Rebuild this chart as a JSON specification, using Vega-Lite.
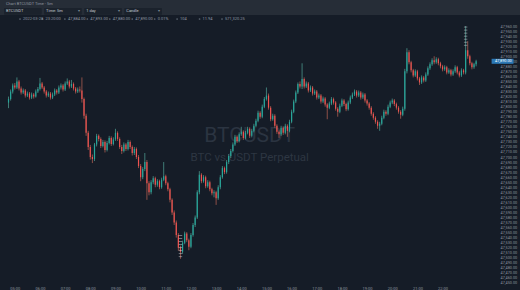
{
  "$schema": "https://vega.github.io/schema/vega-lite/v6.json",
  "background": "#151c27",
  "padding": 0,
  "spacing": 0,
  "config": {
    "font": "Roboto",
    "view": {"stroke": null},
    "axis": {"labelOverlap": false, "labelSeparation": 0}
  },
  "resolve": {"scale": {"x": "independent", "y": "independent"}},
  "datasets": {
    "bars": [
      {"t":"2022-03-28T04:45:00Z","o":47808,"h":47820,"l":47797,"c":47815},
      {"t":"2022-03-28T04:50:00Z","o":47815,"h":47834,"l":47812,"c":47830},
      {"t":"2022-03-28T04:55:00Z","o":47830,"h":47846,"l":47826,"c":47842},
      {"t":"2022-03-28T05:00:00Z","o":47842,"h":47847,"l":47834,"c":47838},
      {"t":"2022-03-28T05:05:00Z","o":47838,"h":47858,"l":47835,"c":47850},
      {"t":"2022-03-28T05:10:00Z","o":47850,"h":47853,"l":47832,"c":47836},
      {"t":"2022-03-28T05:15:00Z","o":47836,"h":47840,"l":47824,"c":47828},
      {"t":"2022-03-28T05:20:00Z","o":47828,"h":47836,"l":47825,"c":47832},
      {"t":"2022-03-28T05:25:00Z","o":47832,"h":47835,"l":47818,"c":47822},
      {"t":"2022-03-28T05:30:00Z","o":47822,"h":47830,"l":47819,"c":47826},
      {"t":"2022-03-28T05:35:00Z","o":47826,"h":47829,"l":47814,"c":47818},
      {"t":"2022-03-28T05:40:00Z","o":47818,"h":47828,"l":47815,"c":47824},
      {"t":"2022-03-28T05:45:00Z","o":47824,"h":47827,"l":47816,"c":47820},
      {"t":"2022-03-28T05:50:00Z","o":47820,"h":47834,"l":47818,"c":47830},
      {"t":"2022-03-28T05:55:00Z","o":47830,"h":47839,"l":47827,"c":47835},
      {"t":"2022-03-28T06:00:00Z","o":47835,"h":47857,"l":47832,"c":47846},
      {"t":"2022-03-28T06:05:00Z","o":47846,"h":47849,"l":47835,"c":47838},
      {"t":"2022-03-28T06:10:00Z","o":47838,"h":47841,"l":47826,"c":47830},
      {"t":"2022-03-28T06:15:00Z","o":47830,"h":47833,"l":47818,"c":47822},
      {"t":"2022-03-28T06:20:00Z","o":47822,"h":47830,"l":47819,"c":47826},
      {"t":"2022-03-28T06:25:00Z","o":47826,"h":47829,"l":47814,"c":47818},
      {"t":"2022-03-28T06:30:00Z","o":47818,"h":47828,"l":47815,"c":47824},
      {"t":"2022-03-28T06:35:00Z","o":47824,"h":47836,"l":47821,"c":47832},
      {"t":"2022-03-28T06:40:00Z","o":47832,"h":47835,"l":47824,"c":47828},
      {"t":"2022-03-28T06:45:00Z","o":47828,"h":47842,"l":47825,"c":47838},
      {"t":"2022-03-28T06:50:00Z","o":47838,"h":47846,"l":47834,"c":47842},
      {"t":"2022-03-28T06:55:00Z","o":47842,"h":47845,"l":47830,"c":47834},
      {"t":"2022-03-28T07:00:00Z","o":47834,"h":47850,"l":47831,"c":47846},
      {"t":"2022-03-28T07:05:00Z","o":47846,"h":47856,"l":47843,"c":47850},
      {"t":"2022-03-28T07:10:00Z","o":47850,"h":47853,"l":47836,"c":47840},
      {"t":"2022-03-28T07:15:00Z","o":47840,"h":47853,"l":47837,"c":47845},
      {"t":"2022-03-28T07:20:00Z","o":47845,"h":47848,"l":47832,"c":47836},
      {"t":"2022-03-28T07:25:00Z","o":47836,"h":47839,"l":47826,"c":47830},
      {"t":"2022-03-28T07:30:00Z","o":47830,"h":47838,"l":47827,"c":47834},
      {"t":"2022-03-28T07:35:00Z","o":47834,"h":47840,"l":47828,"c":47832},
      {"t":"2022-03-28T07:40:00Z","o":47832,"h":47858,"l":47808,"c":47815},
      {"t":"2022-03-28T07:45:00Z","o":47815,"h":47818,"l":47776,"c":47782},
      {"t":"2022-03-28T07:50:00Z","o":47782,"h":47786,"l":47742,"c":47748},
      {"t":"2022-03-28T07:55:00Z","o":47748,"h":47752,"l":47714,"c":47720},
      {"t":"2022-03-28T08:00:00Z","o":47720,"h":47724,"l":47695,"c":47700},
      {"t":"2022-03-28T08:05:00Z","o":47700,"h":47705,"l":47688,"c":47696},
      {"t":"2022-03-28T08:10:00Z","o":47696,"h":47728,"l":47692,"c":47725},
      {"t":"2022-03-28T08:15:00Z","o":47725,"h":47746,"l":47721,"c":47742},
      {"t":"2022-03-28T08:20:00Z","o":47742,"h":47745,"l":47731,"c":47736},
      {"t":"2022-03-28T08:25:00Z","o":47736,"h":47739,"l":47718,"c":47722},
      {"t":"2022-03-28T08:30:00Z","o":47722,"h":47734,"l":47719,"c":47730},
      {"t":"2022-03-28T08:35:00Z","o":47730,"h":47733,"l":47709,"c":47714},
      {"t":"2022-03-28T08:40:00Z","o":47714,"h":47732,"l":47711,"c":47728},
      {"t":"2022-03-28T08:45:00Z","o":47728,"h":47742,"l":47725,"c":47738},
      {"t":"2022-03-28T08:50:00Z","o":47738,"h":47741,"l":47722,"c":47726},
      {"t":"2022-03-28T08:55:00Z","o":47726,"h":47739,"l":47723,"c":47735},
      {"t":"2022-03-28T09:00:00Z","o":47735,"h":47756,"l":47732,"c":47748},
      {"t":"2022-03-28T09:05:00Z","o":47748,"h":47751,"l":47732,"c":47736},
      {"t":"2022-03-28T09:10:00Z","o":47736,"h":47739,"l":47716,"c":47720},
      {"t":"2022-03-28T09:15:00Z","o":47720,"h":47724,"l":47706,"c":47712},
      {"t":"2022-03-28T09:20:00Z","o":47712,"h":47729,"l":47709,"c":47725},
      {"t":"2022-03-28T09:25:00Z","o":47725,"h":47728,"l":47712,"c":47716},
      {"t":"2022-03-28T09:30:00Z","o":47716,"h":47734,"l":47713,"c":47730},
      {"t":"2022-03-28T09:35:00Z","o":47730,"h":47733,"l":47716,"c":47720},
      {"t":"2022-03-28T09:40:00Z","o":47720,"h":47723,"l":47703,"c":47708},
      {"t":"2022-03-28T09:45:00Z","o":47708,"h":47720,"l":47704,"c":47716},
      {"t":"2022-03-28T09:50:00Z","o":47716,"h":47719,"l":47696,"c":47700},
      {"t":"2022-03-28T09:55:00Z","o":47700,"h":47704,"l":47678,"c":47682},
      {"t":"2022-03-28T10:00:00Z","o":47682,"h":47686,"l":47652,"c":47660},
      {"t":"2022-03-28T10:05:00Z","o":47660,"h":47680,"l":47656,"c":47676},
      {"t":"2022-03-28T10:10:00Z","o":47676,"h":47708,"l":47672,"c":47690},
      {"t":"2022-03-28T10:15:00Z","o":47690,"h":47694,"l":47615,"c":47648},
      {"t":"2022-03-28T10:20:00Z","o":47648,"h":47652,"l":47624,"c":47630},
      {"t":"2022-03-28T10:25:00Z","o":47630,"h":47654,"l":47626,"c":47650},
      {"t":"2022-03-28T10:30:00Z","o":47650,"h":47662,"l":47646,"c":47658},
      {"t":"2022-03-28T10:35:00Z","o":47658,"h":47661,"l":47640,"c":47645},
      {"t":"2022-03-28T10:40:00Z","o":47645,"h":47656,"l":47641,"c":47652},
      {"t":"2022-03-28T10:45:00Z","o":47652,"h":47655,"l":47636,"c":47640},
      {"t":"2022-03-28T10:50:00Z","o":47640,"h":47659,"l":47637,"c":47655},
      {"t":"2022-03-28T10:55:00Z","o":47655,"h":47690,"l":47652,"c":47662},
      {"t":"2022-03-28T11:00:00Z","o":47662,"h":47665,"l":47644,"c":47648},
      {"t":"2022-03-28T11:05:00Z","o":47648,"h":47651,"l":47632,"c":47636},
      {"t":"2022-03-28T11:10:00Z","o":47636,"h":47639,"l":47610,"c":47615},
      {"t":"2022-03-28T11:15:00Z","o":47615,"h":47618,"l":47585,"c":47590},
      {"t":"2022-03-28T11:20:00Z","o":47590,"h":47594,"l":47565,"c":47570},
      {"t":"2022-03-28T11:25:00Z","o":47570,"h":47574,"l":47540,"c":47545},
      {"t":"2022-03-28T11:30:00Z","o":47545,"h":47549,"l":47514,"c":47520},
      {"t":"2022-03-28T11:35:00Z","o":47520,"h":47524,"l":47498,"c":47512},
      {"t":"2022-03-28T11:40:00Z","o":47512,"h":47534,"l":47508,"c":47530},
      {"t":"2022-03-28T11:45:00Z","o":47530,"h":47552,"l":47527,"c":47548},
      {"t":"2022-03-28T11:50:00Z","o":47548,"h":47551,"l":47531,"c":47535},
      {"t":"2022-03-28T11:55:00Z","o":47535,"h":47538,"l":47515,"c":47522},
      {"t":"2022-03-28T12:00:00Z","o":47522,"h":47549,"l":47519,"c":47545},
      {"t":"2022-03-28T12:05:00Z","o":47545,"h":47569,"l":47542,"c":47565},
      {"t":"2022-03-28T12:10:00Z","o":47565,"h":47584,"l":47561,"c":47580},
      {"t":"2022-03-28T12:15:00Z","o":47580,"h":47634,"l":47577,"c":47630},
      {"t":"2022-03-28T12:20:00Z","o":47630,"h":47672,"l":47626,"c":47665},
      {"t":"2022-03-28T12:25:00Z","o":47665,"h":47668,"l":47648,"c":47652},
      {"t":"2022-03-28T12:30:00Z","o":47652,"h":47664,"l":47649,"c":47660},
      {"t":"2022-03-28T12:35:00Z","o":47660,"h":47663,"l":47638,"c":47642},
      {"t":"2022-03-28T12:40:00Z","o":47642,"h":47654,"l":47639,"c":47650},
      {"t":"2022-03-28T12:45:00Z","o":47650,"h":47653,"l":47632,"c":47636},
      {"t":"2022-03-28T12:50:00Z","o":47636,"h":47639,"l":47624,"c":47628},
      {"t":"2022-03-28T12:55:00Z","o":47628,"h":47634,"l":47620,"c":47630},
      {"t":"2022-03-28T13:00:00Z","o":47630,"h":47633,"l":47605,"c":47618},
      {"t":"2022-03-28T13:05:00Z","o":47618,"h":47644,"l":47615,"c":47640},
      {"t":"2022-03-28T13:10:00Z","o":47640,"h":47664,"l":47636,"c":47660},
      {"t":"2022-03-28T13:15:00Z","o":47660,"h":47682,"l":47657,"c":47678},
      {"t":"2022-03-28T13:20:00Z","o":47678,"h":47681,"l":47666,"c":47670},
      {"t":"2022-03-28T13:25:00Z","o":47670,"h":47694,"l":47667,"c":47690},
      {"t":"2022-03-28T13:30:00Z","o":47690,"h":47706,"l":47686,"c":47702},
      {"t":"2022-03-28T13:35:00Z","o":47702,"h":47716,"l":47698,"c":47712},
      {"t":"2022-03-28T13:40:00Z","o":47712,"h":47729,"l":47709,"c":47725},
      {"t":"2022-03-28T13:45:00Z","o":47725,"h":47744,"l":47722,"c":47740},
      {"t":"2022-03-28T13:50:00Z","o":47740,"h":47743,"l":47728,"c":47732},
      {"t":"2022-03-28T13:55:00Z","o":47732,"h":47749,"l":47729,"c":47745},
      {"t":"2022-03-28T14:00:00Z","o":47745,"h":47760,"l":47742,"c":47750},
      {"t":"2022-03-28T14:05:00Z","o":47750,"h":47753,"l":47734,"c":47738},
      {"t":"2022-03-28T14:10:00Z","o":47738,"h":47752,"l":47735,"c":47748},
      {"t":"2022-03-28T14:15:00Z","o":47748,"h":47760,"l":47745,"c":47756},
      {"t":"2022-03-28T14:20:00Z","o":47756,"h":47759,"l":47738,"c":47742},
      {"t":"2022-03-28T14:25:00Z","o":47742,"h":47756,"l":47739,"c":47752},
      {"t":"2022-03-28T14:30:00Z","o":47752,"h":47766,"l":47749,"c":47762},
      {"t":"2022-03-28T14:35:00Z","o":47762,"h":47776,"l":47759,"c":47772},
      {"t":"2022-03-28T14:40:00Z","o":47772,"h":47792,"l":47769,"c":47788},
      {"t":"2022-03-28T14:45:00Z","o":47788,"h":47791,"l":47776,"c":47780},
      {"t":"2022-03-28T14:50:00Z","o":47780,"h":47804,"l":47777,"c":47800},
      {"t":"2022-03-28T14:55:00Z","o":47800,"h":47819,"l":47797,"c":47815},
      {"t":"2022-03-28T15:00:00Z","o":47815,"h":47838,"l":47812,"c":47822},
      {"t":"2022-03-28T15:05:00Z","o":47822,"h":47826,"l":47794,"c":47798},
      {"t":"2022-03-28T15:10:00Z","o":47798,"h":47801,"l":47771,"c":47775},
      {"t":"2022-03-28T15:15:00Z","o":47775,"h":47786,"l":47772,"c":47782},
      {"t":"2022-03-28T15:20:00Z","o":47782,"h":47785,"l":47758,"c":47762},
      {"t":"2022-03-28T15:25:00Z","o":47762,"h":47765,"l":47746,"c":47750},
      {"t":"2022-03-28T15:30:00Z","o":47750,"h":47753,"l":47738,"c":47745},
      {"t":"2022-03-28T15:35:00Z","o":47745,"h":47762,"l":47742,"c":47758},
      {"t":"2022-03-28T15:40:00Z","o":47758,"h":47761,"l":47744,"c":47748},
      {"t":"2022-03-28T15:45:00Z","o":47748,"h":47766,"l":47745,"c":47762},
      {"t":"2022-03-28T15:50:00Z","o":47762,"h":47765,"l":47740,"c":47752},
      {"t":"2022-03-28T15:55:00Z","o":47752,"h":47774,"l":47749,"c":47770},
      {"t":"2022-03-28T16:00:00Z","o":47770,"h":47794,"l":47767,"c":47790},
      {"t":"2022-03-28T16:05:00Z","o":47790,"h":47814,"l":47787,"c":47810},
      {"t":"2022-03-28T16:10:00Z","o":47810,"h":47832,"l":47807,"c":47828},
      {"t":"2022-03-28T16:15:00Z","o":47828,"h":47848,"l":47825,"c":47845},
      {"t":"2022-03-28T16:20:00Z","o":47845,"h":47850,"l":47836,"c":47840},
      {"t":"2022-03-28T16:25:00Z","o":47840,"h":47886,"l":47835,"c":47855},
      {"t":"2022-03-28T16:30:00Z","o":47855,"h":47858,"l":47836,"c":47840},
      {"t":"2022-03-28T16:35:00Z","o":47840,"h":47850,"l":47837,"c":47846},
      {"t":"2022-03-28T16:40:00Z","o":47846,"h":47849,"l":47828,"c":47832},
      {"t":"2022-03-28T16:45:00Z","o":47832,"h":47842,"l":47829,"c":47838},
      {"t":"2022-03-28T16:50:00Z","o":47838,"h":47841,"l":47822,"c":47826},
      {"t":"2022-03-28T16:55:00Z","o":47826,"h":47834,"l":47823,"c":47830},
      {"t":"2022-03-28T17:00:00Z","o":47830,"h":47833,"l":47814,"c":47818},
      {"t":"2022-03-28T17:05:00Z","o":47818,"h":47826,"l":47815,"c":47822},
      {"t":"2022-03-28T17:10:00Z","o":47822,"h":47825,"l":47806,"c":47810},
      {"t":"2022-03-28T17:15:00Z","o":47810,"h":47820,"l":47807,"c":47816},
      {"t":"2022-03-28T17:20:00Z","o":47816,"h":47819,"l":47800,"c":47804},
      {"t":"2022-03-28T17:25:00Z","o":47804,"h":47807,"l":47775,"c":47798},
      {"t":"2022-03-28T17:30:00Z","o":47798,"h":47810,"l":47795,"c":47806},
      {"t":"2022-03-28T17:35:00Z","o":47806,"h":47819,"l":47803,"c":47815},
      {"t":"2022-03-28T17:40:00Z","o":47815,"h":47818,"l":47804,"c":47808},
      {"t":"2022-03-28T17:45:00Z","o":47808,"h":47811,"l":47792,"c":47796},
      {"t":"2022-03-28T17:50:00Z","o":47796,"h":47799,"l":47780,"c":47790},
      {"t":"2022-03-28T17:55:00Z","o":47790,"h":47806,"l":47787,"c":47802},
      {"t":"2022-03-28T18:00:00Z","o":47802,"h":47816,"l":47799,"c":47812},
      {"t":"2022-03-28T18:05:00Z","o":47812,"h":47815,"l":47801,"c":47805},
      {"t":"2022-03-28T18:10:00Z","o":47805,"h":47808,"l":47791,"c":47795},
      {"t":"2022-03-28T18:15:00Z","o":47795,"h":47812,"l":47792,"c":47808},
      {"t":"2022-03-28T18:20:00Z","o":47808,"h":47822,"l":47805,"c":47818},
      {"t":"2022-03-28T18:25:00Z","o":47818,"h":47828,"l":47815,"c":47824},
      {"t":"2022-03-28T18:30:00Z","o":47824,"h":47834,"l":47821,"c":47830},
      {"t":"2022-03-28T18:35:00Z","o":47830,"h":47833,"l":47818,"c":47822},
      {"t":"2022-03-28T18:40:00Z","o":47822,"h":47832,"l":47819,"c":47828},
      {"t":"2022-03-28T18:45:00Z","o":47828,"h":47831,"l":47814,"c":47818},
      {"t":"2022-03-28T18:50:00Z","o":47818,"h":47828,"l":47815,"c":47824},
      {"t":"2022-03-28T18:55:00Z","o":47824,"h":47827,"l":47808,"c":47812},
      {"t":"2022-03-28T19:00:00Z","o":47812,"h":47815,"l":47802,"c":47806},
      {"t":"2022-03-28T19:05:00Z","o":47806,"h":47809,"l":47794,"c":47798},
      {"t":"2022-03-28T19:10:00Z","o":47798,"h":47801,"l":47782,"c":47786},
      {"t":"2022-03-28T19:15:00Z","o":47786,"h":47789,"l":47774,"c":47778},
      {"t":"2022-03-28T19:20:00Z","o":47778,"h":47781,"l":47766,"c":47770},
      {"t":"2022-03-28T19:25:00Z","o":47770,"h":47773,"l":47756,"c":47762},
      {"t":"2022-03-28T19:30:00Z","o":47762,"h":47770,"l":47752,"c":47766},
      {"t":"2022-03-28T19:35:00Z","o":47766,"h":47782,"l":47763,"c":47778},
      {"t":"2022-03-28T19:40:00Z","o":47778,"h":47794,"l":47775,"c":47790},
      {"t":"2022-03-28T19:45:00Z","o":47790,"h":47793,"l":47782,"c":47786},
      {"t":"2022-03-28T19:50:00Z","o":47786,"h":47804,"l":47783,"c":47800},
      {"t":"2022-03-28T19:55:00Z","o":47800,"h":47812,"l":47797,"c":47808},
      {"t":"2022-03-28T20:00:00Z","o":47808,"h":47816,"l":47805,"c":47812},
      {"t":"2022-03-28T20:05:00Z","o":47812,"h":47815,"l":47801,"c":47805},
      {"t":"2022-03-28T20:10:00Z","o":47805,"h":47808,"l":47794,"c":47798},
      {"t":"2022-03-28T20:15:00Z","o":47798,"h":47801,"l":47786,"c":47790},
      {"t":"2022-03-28T20:20:00Z","o":47790,"h":47793,"l":47776,"c":47784},
      {"t":"2022-03-28T20:25:00Z","o":47784,"h":47800,"l":47781,"c":47796},
      {"t":"2022-03-28T20:30:00Z","o":47796,"h":47875,"l":47792,"c":47870},
      {"t":"2022-03-28T20:35:00Z","o":47870,"h":47916,"l":47866,"c":47908},
      {"t":"2022-03-28T20:40:00Z","o":47908,"h":47912,"l":47884,"c":47888},
      {"t":"2022-03-28T20:45:00Z","o":47888,"h":47891,"l":47868,"c":47872},
      {"t":"2022-03-28T20:50:00Z","o":47872,"h":47875,"l":47858,"c":47862},
      {"t":"2022-03-28T20:55:00Z","o":47862,"h":47874,"l":47859,"c":47870},
      {"t":"2022-03-28T21:00:00Z","o":47870,"h":47873,"l":47852,"c":47856},
      {"t":"2022-03-28T21:05:00Z","o":47856,"h":47859,"l":47843,"c":47848},
      {"t":"2022-03-28T21:10:00Z","o":47848,"h":47862,"l":47845,"c":47858},
      {"t":"2022-03-28T21:15:00Z","o":47858,"h":47861,"l":47848,"c":47852},
      {"t":"2022-03-28T21:20:00Z","o":47852,"h":47868,"l":47849,"c":47864},
      {"t":"2022-03-28T21:25:00Z","o":47864,"h":47880,"l":47861,"c":47876},
      {"t":"2022-03-28T21:30:00Z","o":47876,"h":47888,"l":47873,"c":47884},
      {"t":"2022-03-28T21:35:00Z","o":47884,"h":47896,"l":47881,"c":47892},
      {"t":"2022-03-28T21:40:00Z","o":47892,"h":47900,"l":47884,"c":47888},
      {"t":"2022-03-28T21:45:00Z","o":47888,"h":47898,"l":47885,"c":47894},
      {"t":"2022-03-28T21:50:00Z","o":47894,"h":47897,"l":47882,"c":47886},
      {"t":"2022-03-28T21:55:00Z","o":47886,"h":47889,"l":47876,"c":47880},
      {"t":"2022-03-28T22:00:00Z","o":47880,"h":47883,"l":47870,"c":47874},
      {"t":"2022-03-28T22:05:00Z","o":47874,"h":47882,"l":47871,"c":47878},
      {"t":"2022-03-28T22:10:00Z","o":47878,"h":47881,"l":47864,"c":47868},
      {"t":"2022-03-28T22:15:00Z","o":47868,"h":47876,"l":47865,"c":47872},
      {"t":"2022-03-28T22:20:00Z","o":47872,"h":47875,"l":47860,"c":47864},
      {"t":"2022-03-28T22:25:00Z","o":47864,"h":47874,"l":47861,"c":47870},
      {"t":"2022-03-28T22:30:00Z","o":47870,"h":47882,"l":47867,"c":47878},
      {"t":"2022-03-28T22:35:00Z","o":47878,"h":47881,"l":47864,"c":47868},
      {"t":"2022-03-28T22:40:00Z","o":47868,"h":47871,"l":47858,"c":47862},
      {"t":"2022-03-28T22:45:00Z","o":47862,"h":47876,"l":47859,"c":47872},
      {"t":"2022-03-28T22:50:00Z","o":47872,"h":47875,"l":47864,"c":47868},
      {"t":"2022-03-28T22:55:00Z","o":47868,"h":47960,"l":47864,"c":47912},
      {"t":"2022-03-28T23:00:00Z","o":47912,"h":47930,"l":47895,"c":47900},
      {"t":"2022-03-28T23:05:00Z","o":47900,"h":47903,"l":47882,"c":47886},
      {"t":"2022-03-28T23:10:00Z","o":47886,"h":47889,"l":47874,"c":47878},
      {"t":"2022-03-28T23:15:00Z","o":47878,"h":47887,"l":47875,"c":47884},
      {"t":"2022-03-28T23:20:00Z","o":47884,"h":47893,"l":47880,"c":47890}
    ],
    "trades": [
      {"t":"2022-03-28T11:35:00Z","p":47502},
      {"t":"2022-03-28T11:35:00Z","p":47508},
      {"t":"2022-03-28T11:35:00Z","p":47514},
      {"t":"2022-03-28T11:35:00Z","p":47520},
      {"t":"2022-03-28T11:35:00Z","p":47526},
      {"t":"2022-03-28T11:35:00Z","p":47532},
      {"t":"2022-03-28T11:35:00Z","p":47538},
      {"t":"2022-03-28T11:35:00Z","p":47544},
      {"t":"2022-03-28T22:55:00Z","p":47922},
      {"t":"2022-03-28T22:55:00Z","p":47928},
      {"t":"2022-03-28T22:55:00Z","p":47934},
      {"t":"2022-03-28T22:55:00Z","p":47940},
      {"t":"2022-03-28T22:55:00Z","p":47946},
      {"t":"2022-03-28T22:55:00Z","p":47952},
      {"t":"2022-03-28T22:55:00Z","p":47958}
    ]
  },
  "vconcat": [
    {
      "width": 520,
      "height": 15,
      "view": {"fill": "#262d37", "stroke": null},
      "data": {"values": [
        {"row": "title", "slot": "a", "label": "Chart BTCUSDT  Time - 5m", "arrow": ""},
        {"row": "tools", "slot": "a", "label": "BTCUSDT", "arrow": ""},
        {"row": "tools", "slot": "b", "label": "Time: 5m", "arrow": "▾"},
        {"row": "tools", "slot": "c", "label": "1 day", "arrow": "▾"},
        {"row": "tools", "slot": "d", "label": "Candle", "arrow": "▾"}
      ]},
      "layer": [
        {
          "transform": [{"filter": "datum.row == 'tools'"}],
          "mark": {"type": "rect", "fill": "#1b222c", "cornerRadius": 1},
          "encoding": {
            "x": {"field": "slot", "type": "nominal", "axis": null, "scale": {"type": "band", "range": [4, 162], "paddingInner": 0.06, "paddingOuter": 0}},
            "y": {"field": "row", "type": "nominal", "axis": null, "scale": {"type": "band", "paddingInner": 0.1, "paddingOuter": 0.05}}
          }
        },
        {
          "mark": {"type": "text", "align": "left", "baseline": "middle", "dx": 2, "fontSize": 4},
          "encoding": {
            "x": {"field": "slot", "type": "nominal", "bandPosition": 0, "axis": null, "scale": {"type": "band", "range": [4, 162], "paddingInner": 0.06, "paddingOuter": 0}},
            "y": {"field": "row", "type": "nominal", "axis": null, "scale": {"type": "band", "paddingInner": 0.1, "paddingOuter": 0.05}},
            "text": {"field": "label"},
            "color": {"condition": {"test": "datum.row == 'title'", "value": "#8e96a1"}, "value": "#c3cad2"}
          }
        },
        {
          "transform": [{"filter": "datum.arrow != ''"}],
          "mark": {"type": "text", "align": "right", "baseline": "middle", "dx": -2, "fontSize": 4, "color": "#7d8692"},
          "encoding": {
            "x": {"field": "slot", "type": "nominal", "bandPosition": 1, "axis": null, "scale": {"type": "band", "range": [4, 162], "paddingInner": 0.06, "paddingOuter": 0}},
            "y": {"field": "row", "type": "nominal", "axis": null, "scale": {"type": "band", "paddingInner": 0.1, "paddingOuter": 0.05}},
            "text": {"field": "arrow"}
          }
        }
      ]
    },
    {
      "width": 520,
      "height": 8,
      "data": {"values": [
        {"k": "date", "v": "2022-03-28"},
        {"k": "time", "v": "23:20:00"},
        {"k": "open", "v": "47,884.00"},
        {"k": "high", "v": "47,893.00"},
        {"k": "low", "v": "47,880.00"},
        {"k": "close", "v": "47,890.00"},
        {"k": "change", "v": "0.01%"},
        {"k": "trades", "v": "104"},
        {"k": "volume", "v": "11.94"},
        {"k": "turnover", "v": "571,320.25"}
      ]},
      "layer": [
        {
          "mark": {"type": "point", "shape": "circle", "filled": true, "size": 3, "color": "#5c6672", "opacity": 1},
          "encoding": {
            "x": {"field": "k", "type": "nominal", "sort": null, "axis": null, "scale": {"type": "point", "range": [20, 222], "padding": 0}}
          }
        },
        {
          "mark": {"type": "text", "align": "left", "baseline": "middle", "dx": 3, "fontSize": 4, "color": "#8f98a3"},
          "encoding": {
            "x": {"field": "k", "type": "nominal", "sort": null, "axis": null, "scale": {"type": "point", "range": [20, 222], "padding": 0}},
            "text": {"field": "v"}
          }
        }
      ]
    },
    {
      "width": 496,
      "height": 262,
      "view": {"fill": "#151c27", "stroke": null},
      "data": {"name": "bars"},
      "layer": [
        {
          "data": {"values": [{"label": "BTCUSDT"}]},
          "mark": {"type": "text", "fontSize": 21, "color": "#2b3441", "baseline": "middle"},
          "encoding": {
            "x": {"datum": 1648477200000, "type": "temporal"},
            "y": {"datum": 47741, "type": "quantitative"},
            "text": {"field": "label"}
          }
        },
        {
          "data": {"values": [{"label": "BTC vs USDT  Perpetual"}]},
          "mark": {"type": "text", "fontSize": 11.5, "color": "#2d3642", "baseline": "middle"},
          "encoding": {
            "x": {"datum": 1648477200000, "type": "temporal"},
            "y": {"datum": 47698, "type": "quantitative"},
            "text": {"field": "label"}
          }
        },
        {
          "mark": {"type": "rule", "strokeWidth": 0.7, "opacity": 0.85},
          "encoding": {
            "x": {
              "field": "t", "type": "temporal",
              "scale": {"type": "utc", "domain": [1648442195000, 1648511730000], "nice": false},
              "axis": {
                "orient": "bottom", "format": "%H:%M", "labelFontSize": 4, "labelColor": "#8b949e", "ticks": false, "domain": false, "grid": false, "labelPadding": 1, "title": null, "labelOverlap": false, "tickCount": 40,
                "values": [1648443600000,1648447200000,1648450800000,1648454400000,1648458000000,1648461600000,1648465200000,1648468800000,1648472400000,1648476000000,1648479600000,1648483200000,1648486800000,1648490400000,1648494000000,1648497600000,1648501200000,1648504800000]
              }
            },
            "y": {
              "field": "l", "type": "quantitative",
              "scale": {"domain": [47446, 47966], "nice": false, "zero": false},
              "axis": {
                "orient": "right", "format": ",.2f", "labelFontSize": 3.8, "labelColor": "#8b949e", "ticks": false, "domain": false, "grid": false, "labelPadding": 4, "title": null, "labelOverlap": false, "labelSeparation": 0, "tickCount": 80,
                "values": [47450,47460,47470,47480,47490,47500,47510,47520,47530,47540,47550,47560,47570,47580,47590,47600,47610,47620,47630,47640,47650,47660,47670,47680,47690,47700,47710,47720,47730,47740,47750,47760,47770,47780,47790,47800,47810,47820,47830,47840,47850,47860,47870,47880,47890,47900,47910,47920,47930,47940,47950,47960]
              }
            },
            "y2": {"field": "h"},
            "color": {"condition": {"test": "datum.c >= datum.o", "value": "#5fbfae"}, "value": "#e0735e"}
          }
        },
        {
          "mark": {"type": "bar", "width": 1.2},
          "encoding": {
            "x": {"field": "t", "type": "temporal"},
            "y": {"field": "o", "type": "quantitative"},
            "y2": {"field": "c"},
            "color": {"condition": {"test": "datum.c >= datum.o", "value": "#26a69a"}, "value": "#ef5350"}
          }
        },
        {
          "data": {"name": "trades"},
          "mark": {"type": "point", "shape": "M-1,-0.16H1V0.16H-1Z", "filled": true, "size": 12, "color": "#d6dbe0", "opacity": 0.85},
          "encoding": {
            "x": {"field": "t", "type": "temporal"},
            "y": {"field": "p", "type": "quantitative"}
          }
        },
        {
          "transform": [
            {"window": [{"op": "row_number", "as": "rank"}], "sort": [{"field": "t", "order": "descending"}]},
            {"filter": "datum.rank == 1"}
          ],
          "mark": {"type": "point", "shape": "M0.1,-0.42H3.75V0.42H0.1Z", "filled": true, "size": 144, "color": "#2b78b5", "opacity": 1},
          "encoding": {
            "x": {"datum": 1648511730000, "type": "temporal"},
            "y": {"field": "c", "type": "quantitative"}
          }
        },
        {
          "transform": [
            {"window": [{"op": "row_number", "as": "rank"}], "sort": [{"field": "t", "order": "descending"}]},
            {"filter": "datum.rank == 1"}
          ],
          "mark": {"type": "text", "align": "left", "baseline": "middle", "dx": 4, "fontSize": 3.8, "color": "#ffffff"},
          "encoding": {
            "x": {"datum": 1648511730000, "type": "temporal"},
            "y": {"field": "c", "type": "quantitative"},
            "text": {"field": "c", "type": "quantitative", "format": ",.2f"}
          }
        }
      ]
    }
  ]
}
